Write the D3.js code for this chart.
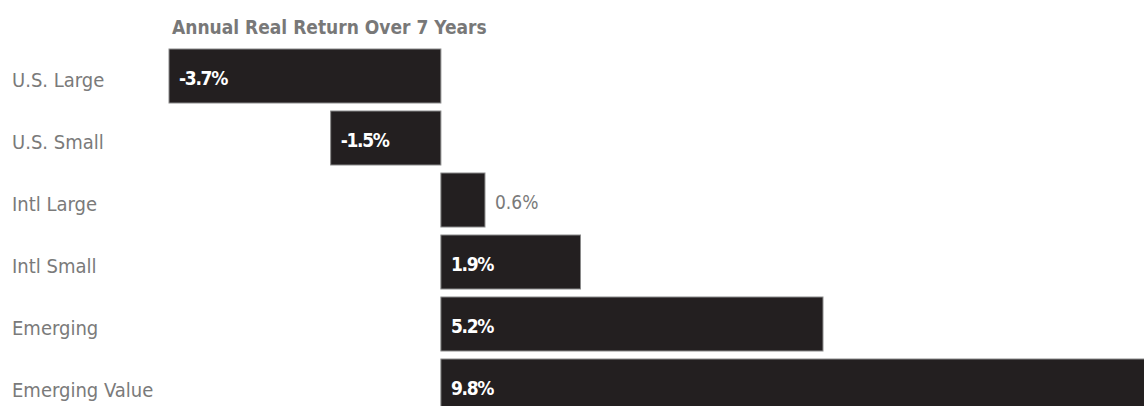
<!DOCTYPE html>
<html>
<head>
<meta charset="utf-8">
<script src="https://cdn.jsdelivr.net/npm/d3@7"></script>
<style>
  html, body { margin: 0; padding: 0; background: #fff; overflow: hidden; }
  text { font-family: "DejaVu Sans Condensed", "DejaVu Sans", sans-serif; font-stretch: condensed; }
</style>
</head>
<body>
<div id="chart-area"></div>
<script>
// data
const categories = ['U.S. Large', 'U.S. Small', 'Intl Large', 'Intl Small', 'Emerging', 'Emerging Value'];
const returns = [-3.7, -1.5, 0.6, 1.9, 5.2, 9.8];
const title = 'Annual Real Return Over 7 Years';

const widthSvg = 1144;
const heightSvg = 406;

const rows = categories.map((c, i) => ({ name: c, value: returns[i] }));

const svg = d3.select('#chart-area')
  .append('svg')
    .attr('width', widthSvg)
    .attr('height', heightSvg);

const scaleX = d3.scaleLinear()
  .domain([-3.7, 9.8])
  .range([169, 1161]);

const scaleY = d3.scaleBand()
  .domain(categories)
  .range([45, 417])
  .paddingInner(8 / 62)
  .paddingOuter(4 / 62);

svg.append('text')
  .attr('x', 172)
  .attr('y', 34)
  .attr('fill', '#787878')
  .attr('font-size', 19)
  .attr('font-weight', 'bold')
  .text(title);

// category labels
svg.selectAll('.cat')
  .data(rows)
  .enter()
  .append('text')
    .attr('class', 'cat')
    .attr('x', 12)
    .attr('y', d => scaleY(d.name) + scaleY.bandwidth() / 2 + 11)
    .attr('fill', '#7a7a7a')
    .attr('font-size', 20)
    .text(d => d.name);

svg.selectAll('rect')
  .data(rows)
  .enter()
  .append('rect')
    .attr('x', d => scaleX(Math.min(0, d.value)))
    .attr('y', d => scaleY(d.name))
    .attr('width', d => Math.abs(scaleX(d.value) - scaleX(0)))
    .attr('height', scaleY.bandwidth())
    .attr('fill', '#231f20')
    .attr('stroke', '#8a8a8a')
    .attr('stroke-width', 1);

// value labels: inside the bar when it is wide enough, else just after it
const fmt = d => d.toFixed(1) + '%';
const inside = d => Math.abs(scaleX(d.value) - scaleX(0)) > 80;
svg.selectAll('.val')
  .data(rows)
  .enter()
  .append('text')
    .attr('class', 'val')
    .attr('x', d => inside(d) ? scaleX(Math.min(0, d.value)) + 10 : scaleX(Math.max(0, d.value)) + 10)
    .attr('y', d => scaleY(d.name) + scaleY.bandwidth() / 2 + 9)
    .attr('fill', d => inside(d) ? '#fff' : '#7a7a7a')
    .attr('font-weight', d => inside(d) ? 'bold' : 'normal')
    .attr('letter-spacing', d => inside(d) ? -1.3 : 0)
    .attr('font-size', 19)
    .text(d => fmt(d.value));
</script>
</body>
</html>
